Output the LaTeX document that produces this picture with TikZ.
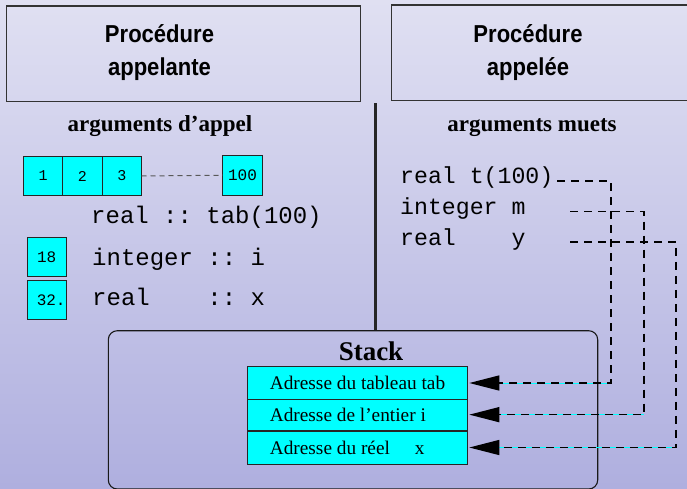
\documentclass[tikz,border=0pt]{standalone}
\usepackage{fontspec}
\setmainfont{Liberation Serif}
\setmonofont{Liberation Mono}
\newfontfamily\headfont[FakeStretch=0.9]{Liberation Sans}
\usepackage{xcolor}
\usepackage{tikz}
\usetikzlibrary{positioning,arrows.meta}

\definecolor{bgtop}{HTML}{E0E0F2}
\definecolor{bgbot}{HTML}{AFAFDF}
\definecolor{cellfill}{HTML}{00FFFF}

\begin{document}
\begin{tikzpicture}[x=1pt, y=-1pt,
        headbox/.style={draw=black!80, line width=1.2pt, minimum height=95.7pt, inner sep=0pt, outer sep=0pt},
        headtext/.style={font=\headfont\bfseries\fontsize{24.5}{33}\selectfont, align=center, inner sep=0pt},
        subtitle/.style={font=\bfseries\fontsize{23}{23}\selectfont, inner sep=0pt, anchor=base},
        cell/.style={draw=black!85, fill=cellfill, line width=0.9pt, minimum width=39.4pt, minimum height=39.5pt,
          inner sep=0pt, outer sep=0pt, font=\ttfamily\fontsize{15}{15}\selectfont},
        code/.style={font=\ttfamily\fontsize{24}{24}\selectfont, inner sep=0pt, anchor=base west},
        dummy/.style={font=\ttfamily\fontsize{23.2}{23.2}\selectfont, inner sep=0pt, anchor=base west},
        stackbox/.style={draw=black!90, line width=1.1pt, rounded corners=9pt, minimum width=489.4pt,
          minimum height=158.3pt, inner sep=0pt},
        adr/.style={draw=black!85, fill=cellfill, line width=0.9pt, minimum width=219.6pt, inner sep=0pt, outer sep=0pt},
        adrtext/.style={font=\fontsize{19.3}{19.3}\selectfont, inner sep=0pt, anchor=west},
        link/.style={draw=black, line width=1.4pt, dash pattern=on 8pt off 6pt,
          -{Triangle[length=30pt, width=15pt]}, shorten >=2pt},
        glow/.style={draw=cellfill, line width=0.8pt}
      ]

      \useasboundingbox (0,0) rectangle (687,488);
      \shade[top color=bgtop, bottom color=bgbot] (0,0) rectangle (687,488);

      % the two procedures
      \node[headbox, minimum width=353.9pt] (caller) at (183.55,53.85) {};
      \node[headbox, minimum width=308.3pt] (callee) at (545.85,52.85) {};
      \node[headtext] (callername) at (159.5,52.5) {Procédure\\appelante};
      \node[headtext] (calleename) at (528,52.5) {Procédure\\appelée};

      \node[subtitle] (actual) at (160,131) {arguments d’appel};
      \node[subtitle] (dummies) at (532,131) {arguments muets};

      % stack
      \node[stackbox] (stack) at (353,409.85) {};
      \coordinate (divtop) at (375,103);
      \draw[line width=3pt, black!85] (divtop) -- (divtop |- stack.north);
      \node[font=\bfseries\fontsize{27}{27}\selectfont, inner sep=0pt, anchor=base] (stacktitle) at (371,360) {Stack};

      % actual arguments
      \node[cell] (c1) at (43,176) {1};
      \node[cell, right=0pt of c1] (c2) {2};
      \node[cell, right=0pt of c2] (c3) {3};
      \node[cell, font=\ttfamily\fontsize{16}{16}\selectfont] (c100) at (242.5,175.2) {100};
      \draw[black!65, line width=1pt, dash pattern=on 5pt off 4pt] (c3.east) -- (c100.west);

      \node[cell, font=\ttfamily\fontsize{16}{16}\selectfont] (ival) at (46.7,257) {18};
      \node[cell, font=\ttfamily\fontsize{16}{16}\selectfont] (xval) at (46.7,300) {\hspace*{9pt}32.};

      \node[code] (tabdecl) at (91,223.3) {real :: tab(100)};
      \node[code] (idecl) at (92,265) {integer :: i};
      \node[code] (xdecl) at (92,305) {real\ \ \ \ :: x};

      % dummy arguments
      \node[dummy] (tdecl) at (400,183.6) {real t(100)};
      \node[dummy] (mdecl) at (400,214.9) {integer m};
      \node[dummy] (ydecl) at (400,245.9) {real\ \ \ \ y};

      % addresses on the stack
      \node[adr, minimum height=32.6pt] (tadr) at (357.5,383) {};
      \node[adr, minimum height=30.7pt, below=0pt of tadr] (madr) {};
      \node[adr, minimum height=33pt, below=1pt of madr] (yadr) {};
      \node[adrtext, right=22pt of tadr.west] {Adresse du tableau tab};
      \node[adrtext, right=22pt of madr.west] {Adresse de l’entier i};
      \node[adrtext, right=22pt of yadr.west] {Adresse du réel\hspace{25pt}x};

      \coordinate (tout) at (557,181);
      \coordinate (mout) at (570,211.5);
      \coordinate (yout) at (570,241.8);
      \coordinate (tbend) at (611,181);
      \coordinate (mbend) at (644,211.5);
      \coordinate (ybend) at (676,241.8);

      \draw[glow] ([xshift=32pt]tadr.east) -- (tbend |- tadr.east);
      \draw[glow] ([xshift=32pt]madr.east) -- (mbend |- madr.east);
      \draw[glow] ([xshift=32pt]yadr.east) -- (ybend |- yadr.east);

      \draw[link] (tout) -- (tbend) |- (tadr.east);
      \draw[link] (mout) -- (mbend) |- (madr.east);
      \draw[link] (yout) -- (ybend) |- (yadr.east);

    \end{tikzpicture}
\end{document}
